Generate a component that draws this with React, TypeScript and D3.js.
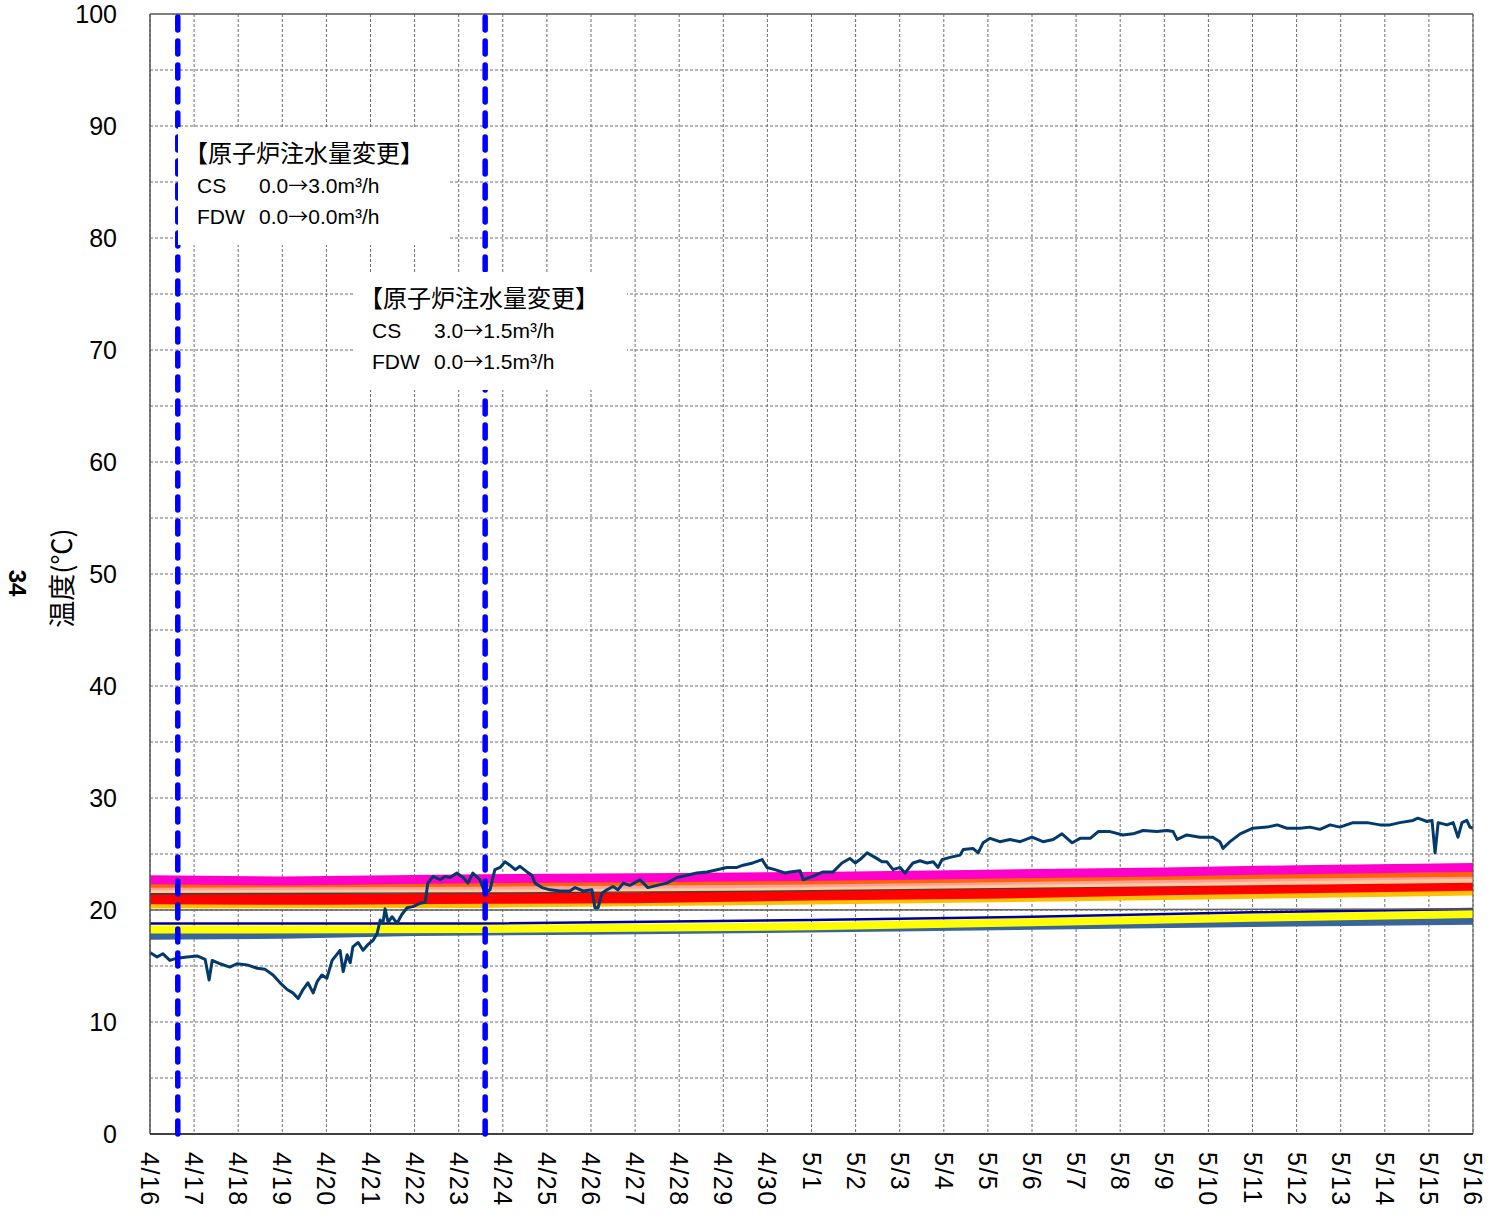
import * as d3 from 'd3';

const W = 1494;
const H = 1223;
const M = { left: 150, right: 1473, top: 14, bottom: 1134 };

const START = new Date(2012, 3, 16);
const END = new Date(2012, 4, 16);
const DAY = 86400000;
const at = (d: number) => new Date(START.getTime() + d * DAY);

const dayLabels = [
  '4/16', '4/17', '4/18', '4/19', '4/20', '4/21', '4/22', '4/23', '4/24', '4/25',
  '4/26', '4/27', '4/28', '4/29', '4/30', '5/1', '5/2', '5/3', '5/4', '5/5',
  '5/6', '5/7', '5/8', '5/9', '5/10', '5/11', '5/12', '5/13', '5/14', '5/15', '5/16',
];
const yTicks = [0, 10, 20, 30, 40, 50, 60, 70, 80, 90, 100];
const yGrid = [5, 10, 15, 20, 25, 30, 35, 40, 45, 50, 55, 60, 65, 70, 75, 80, 85, 90, 95];

// injection change times (days after 4/16 0:00)
const changeDays = [0.63, 7.6];

// fluctuating temperature [day, °C]
const tempLine: [number, number][] = [
  [0.0, 16.2], [0.16, 15.8], [0.29, 16.1], [0.45, 15.5], [0.61, 15.7], [0.84, 15.8],
  [1.07, 15.9], [1.25, 15.6], [1.34, 13.75], [1.41, 15.5], [1.59, 15.2], [1.81, 14.9],
  [1.97, 15.2], [2.2, 15.1], [2.43, 14.8], [2.61, 14.7], [2.79, 14.2], [2.95, 13.5],
  [3.11, 12.9], [3.24, 12.6], [3.36, 12.1], [3.47, 12.9], [3.58, 13.5], [3.7, 12.6],
  [3.79, 13.6], [3.9, 14.2], [4.01, 13.9], [4.13, 15.5], [4.31, 16.4], [4.38, 14.5],
  [4.47, 16.0], [4.54, 15.3], [4.6, 16.7], [4.72, 17.1], [4.83, 16.4], [4.94, 16.9],
  [5.06, 17.3], [5.15, 17.9], [5.22, 19.1], [5.28, 18.8], [5.33, 20.1], [5.4, 18.9],
  [5.49, 19.4], [5.6, 18.8], [5.71, 19.6], [5.83, 20.2], [5.96, 20.3], [6.12, 20.6],
  [6.24, 20.7], [6.3, 22.4], [6.42, 23.0], [6.58, 22.7], [6.69, 23.0], [6.8, 22.9],
  [6.96, 23.3], [7.1, 22.9], [7.21, 22.4], [7.32, 23.3], [7.48, 22.7], [7.6, 21.5],
  [7.71, 21.8], [7.82, 23.6], [7.94, 23.8], [8.05, 24.3], [8.16, 24.0], [8.28, 23.6],
  [8.39, 23.9], [8.55, 23.4], [8.66, 23.1], [8.73, 22.4], [8.89, 22.0], [9.07, 21.8],
  [9.3, 21.7], [9.52, 21.7], [9.64, 22.0], [9.82, 21.7], [10.02, 21.8], [10.09, 20.2],
  [10.16, 20.2], [10.25, 21.5], [10.36, 21.8], [10.5, 22.1], [10.61, 21.8], [10.73, 22.4],
  [10.88, 22.2], [11.11, 22.7], [11.29, 22.0], [11.5, 22.2], [11.72, 22.4], [11.95, 22.9],
  [12.18, 23.1], [12.4, 23.3], [12.63, 23.4], [12.86, 23.6], [13.08, 23.8], [13.31, 23.8],
  [13.45, 24.0], [13.67, 24.2], [13.88, 24.5], [13.99, 23.8], [14.17, 23.6], [14.4, 23.3],
  [14.51, 23.4], [14.74, 23.5], [14.81, 22.7], [15.03, 23.0], [15.26, 23.4], [15.49, 23.4],
  [15.69, 24.2], [15.87, 24.6], [15.99, 24.2], [16.1, 24.5], [16.26, 25.1], [16.44, 24.7],
  [16.6, 24.3], [16.71, 24.3], [16.85, 23.6], [17.01, 23.8], [17.12, 23.3], [17.3, 24.2],
  [17.46, 24.4], [17.62, 24.2], [17.76, 24.3], [17.87, 23.8], [17.96, 24.5], [18.14, 24.7],
  [18.37, 24.9], [18.44, 25.4], [18.66, 25.5], [18.78, 25.1], [18.89, 26.0], [19.05, 26.4],
  [19.27, 26.1], [19.5, 26.3], [19.73, 26.1], [20.0, 26.5], [20.25, 26.1], [20.48, 26.3],
  [20.68, 26.8], [20.91, 26.0], [21.09, 26.4], [21.32, 26.4], [21.5, 27.0], [21.77, 27.0],
  [22.06, 26.7], [22.29, 26.8], [22.52, 27.1], [22.83, 27.0], [23.06, 27.1], [23.2, 27.0],
  [23.29, 26.3], [23.51, 26.7], [23.81, 26.5], [24.1, 26.5], [24.26, 26.1], [24.33, 25.5],
  [24.49, 26.1], [24.72, 26.8], [25.01, 27.3], [25.33, 27.4], [25.56, 27.6], [25.78, 27.3],
  [26.08, 27.3], [26.3, 27.4], [26.53, 27.2], [26.76, 27.6], [26.98, 27.4], [27.28, 27.8],
  [27.6, 27.8], [27.89, 27.6], [28.12, 27.6], [28.34, 27.8], [28.64, 28.0], [28.75, 28.2],
  [28.96, 27.9], [29.07, 28.0], [29.14, 25.1], [29.21, 27.8], [29.41, 27.6], [29.55, 27.8],
  [29.66, 26.5], [29.75, 27.8], [29.86, 28.0], [29.93, 27.4], [30.0, 27.3],
];

// slowly rising thermometer bands [day, °C]
const magentaBand: [number, number][] = [
  [0, 22.7], [3, 22.6], [7.5, 22.8], [12, 22.9], [15, 23.0], [19, 23.2], [23, 23.4], [26, 23.6], [30, 23.8],
];
const orangeBand: [number, number][] = [
  [0, 22.2], [7.5, 22.3], [15, 22.5], [23, 22.9], [30, 23.2],
];
const pinkBand: [number, number][] = [
  [0, 21.95], [7.5, 22.0], [15, 22.2], [23, 22.6], [30, 22.95],
];
const peachBand: [number, number][] = [
  [0, 21.75], [7.5, 21.8], [15, 22.0], [23, 22.35], [30, 22.65],
];
const darkGrayBand: [number, number][] = [
  [0, 21.5], [7.5, 21.6], [15, 21.8], [19, 22.0], [23, 22.2], [30, 22.7],
];
const redBand: [number, number][] = [
  [0, 21.0], [4, 20.95], [7.5, 21.05], [11, 21.1], [15, 21.35], [19, 21.5], [23, 21.8], [30, 22.2],
];
const amberBand: [number, number][] = [
  [0, 20.45], [7.5, 20.5], [15, 20.8], [23, 21.2], [30, 21.6],
];
const grayLine: [number, number][] = [
  [0, 20.0], [15, 20.0], [30, 20.1],
];
const navyLine: [number, number][] = [
  [0, 18.8], [7.5, 18.8], [15, 19.1], [20, 19.4], [25, 19.8], [30, 20.1],
];
const yellowBand: [number, number][] = [
  [0, 18.25], [7.5, 18.3], [15, 18.55], [20, 18.9], [25, 19.3], [30, 19.65],
];
const steelBand: [number, number][] = [
  [0, 17.65], [3, 17.75], [6, 18.0], [10, 18.1], [15, 18.3], [20, 18.55], [25, 18.8], [30, 19.0],
];

const bands = [
  { data: steelBand, color: '#3a6598', width: 7 },
  { data: yellowBand, color: '#ffff00', width: 8 },
  { data: navyLine, color: '#000099', width: 2.5 },
  { data: grayLine, color: '#606060', width: 1.5 },
  { data: amberBand, color: '#ffc000', width: 7 },
  { data: redBand, color: '#ff0000', width: 11 },
  { data: darkGrayBand, color: '#404040', width: 3 },
  { data: peachBand, color: '#ffcc99', width: 5 },
  { data: pinkBand, color: '#ff9fa0', width: 4 },
  { data: orangeBand, color: '#ff6600', width: 5 },
  { data: magentaBand, color: '#ff00cc', width: 9 },
];

const notes = [
  { x0: 178, y0: 127, x1: 450, y1: 245, title: '【原子炉注水量変更】', cs: ['0.0', '3.0m³/h'], fdw: ['0.0', '0.0m³/h'] },
  { x0: 353, y0: 272, x1: 627, y1: 390, title: '【原子炉注水量変更】', cs: ['3.0', '1.5m³/h'], fdw: ['0.0', '1.5m³/h'] },
];

const NUM_FONT = '"Liberation Sans", Arial, sans-serif';
const JP_FONT = '"Noto Sans CJK JP", sans-serif';

function Flow({ x, y, v }: { x: number; y: number; v: string[] }) {
  return (
    <text x={x} y={y} fontSize={21} fontFamily={NUM_FONT}>
      <tspan>{v[0]}</tspan>
      <tspan fontFamily={JP_FONT} fontSize={20}>→</tspan>
      <tspan>{v[1]}</tspan>
    </text>
  );
}

export default function App() {
  const x = d3.scaleTime().domain([START, END]).range([M.left, M.right]);
  const y = d3.scaleLinear().domain([0, 100]).range([M.bottom, M.top]);
  const line = d3
    .line<[number, number]>()
    .x((d) => x(at(d[0])))
    .y((d) => y(d[1]));

  return (
    <svg
      width={W}
      height={H}
      style={{ position: 'absolute', left: 0, top: 0, background: '#fff' }}
    >
      <rect x={0} y={0} width={W} height={H} fill="#fff" />

      {/* grid */}
      {dayLabels.map((_, i) => (
        <line
          key={'vg' + i}
          x1={x(at(i))}
          x2={x(at(i))}
          y1={M.top}
          y2={M.bottom}
          stroke="#6f6f6f"
          strokeWidth={1}
          strokeDasharray="3,2"
        />
      ))}
      {yGrid.map((v) => (
        <line
          key={'hg' + v}
          x1={M.left}
          x2={M.right}
          y1={y(v)}
          y2={y(v)}
          stroke="#6f6f6f"
          strokeWidth={1}
          strokeDasharray="3,2"
        />
      ))}

      {/* bands */}
      {bands.map((b, i) => (
        <path
          key={'b' + i}
          d={line(b.data) ?? ''}
          fill="none"
          stroke={b.color}
          strokeWidth={b.width}
        />
      ))}

      <path d={line(tempLine) ?? ''} fill="none" stroke="#033a6b" strokeWidth={3} strokeLinejoin="round" />

      {/* frame */}
      <line x1={M.left} x2={M.right} y1={M.top} y2={M.top} stroke="#555" strokeWidth={1.5} />
      <line x1={M.left} x2={M.left} y1={M.top} y2={M.bottom} stroke="#555" strokeWidth={1.5} />
      <line x1={M.right} x2={M.right} y1={M.top} y2={M.bottom} stroke="#555" strokeWidth={1} />
      <line x1={M.left} x2={M.right} y1={M.bottom} y2={M.bottom} stroke="#000" strokeWidth={1.5} />

      {/* injection change markers */}
      {changeDays.map((d) => (
        <line
          key={'c' + d}
          x1={x(at(d))}
          x2={x(at(d))}
          y1={M.top + 3}
          y2={M.bottom}
          stroke="#0000ff"
          strokeWidth={5.5}
          strokeDasharray="13,11"
          strokeLinecap="round"
        />
      ))}

      {/* annotation boxes */}
      {notes.map((n, i) => (
        <g key={'n' + i} fill="#000">
          <rect x={n.x0} y={n.y0} width={n.x1 - n.x0} height={n.y1 - n.y0} fill="#fff" />
          <text x={n.x0 + 6} y={n.y0 + 35} fontSize={24} fontFamily={JP_FONT}>
            {n.title}
          </text>
          <text x={n.x0 + 19} y={n.y0 + 66} fontSize={21} fontFamily={NUM_FONT}>
            CS
          </text>
          <Flow x={n.x0 + 81} y={n.y0 + 66} v={n.cs} />
          <text x={n.x0 + 19} y={n.y0 + 97} fontSize={21} fontFamily={NUM_FONT}>
            FDW
          </text>
          <Flow x={n.x0 + 81} y={n.y0 + 97} v={n.fdw} />
        </g>
      ))}

      {/* y axis labels */}
      {yTicks.map((v) => (
        <text
          key={'yt' + v}
          x={117}
          y={y(v)}
          dy="0.36em"
          textAnchor="end"
          fontSize={25}
          fontFamily={NUM_FONT}
          fill="#000"
        >
          {v}
        </text>
      ))}

      {/* x axis labels */}
      {dayLabels.map((lab, i) => (
        <text
          key={'xt' + i}
          transform={`translate(${x(at(i))},1152) rotate(90)`}
          dy="0.36em"
          textAnchor="start"
          fontSize={25}
          letterSpacing={1.5}
          fontFamily={NUM_FONT}
          fill="#000"
        >
          {lab}
        </text>
      ))}

      <text
        transform="translate(62,578) rotate(-90)"
        dy="0.36em"
        textAnchor="middle"
        fontSize={27}
        fontFamily={JP_FONT}
        fill="#000"
      >
        温度(℃)
      </text>
      <text
        transform="translate(18,583) rotate(90)"
        dy="0.36em"
        textAnchor="middle"
        fontSize={24}
        fontWeight={600}
        fontFamily={NUM_FONT}
        fill="#000"
      >
        34
      </text>
    </svg>
  );
}
